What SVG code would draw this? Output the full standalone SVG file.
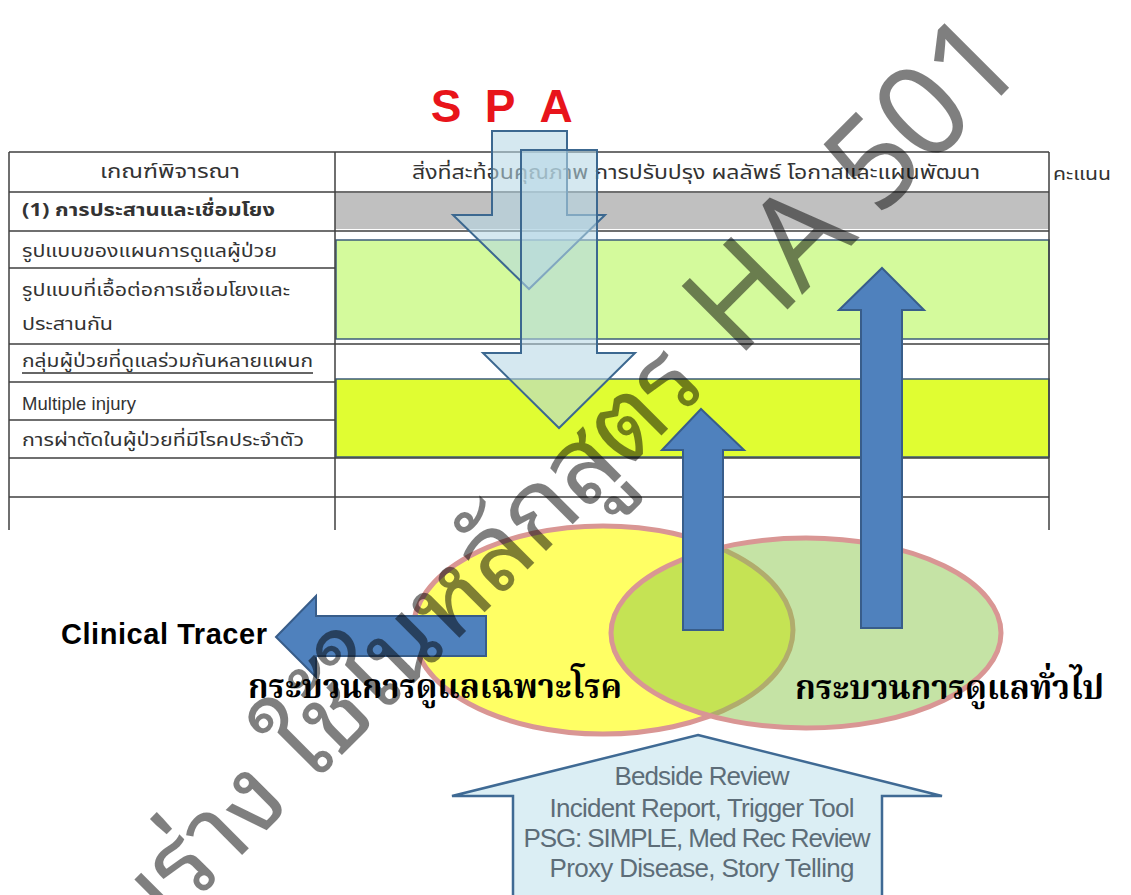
<svg xmlns="http://www.w3.org/2000/svg" width="1131" height="895" viewBox="0 0 1131 895">
<style>
.th{font-family:"Noto Sans Thai","Noto Sans Thai Looped","Loma","Garuda","Tahoma","Noto Sans",sans-serif;fill:#333}
.ths{font-family:"Noto Serif Thai","Noto Sans Thai","Norasi","Liberation Serif",serif;font-weight:bold;fill:#000}
.en{font-family:"Liberation Sans",Arial,sans-serif}
.grid{stroke:#404040;stroke-width:1.5;fill:none}
.band{stroke:#3b5b7a;stroke-width:1.5}
.blue{fill:#4f81bd;stroke:#385d8a;stroke-width:2}
.spa{fill:#b5d7e5;fill-opacity:0.57;stroke:#3c6890;stroke-width:2}
.ell{stroke:#d99694;stroke-width:5}
.rev{font-family:"Liberation Sans",Arial,sans-serif;font-size:26px;fill:#5d6d78;text-anchor:middle}
.wm{font-family:"Noto Sans Thai Looped","Noto Sans Thai","Loma","Tahoma",sans-serif;fill:#000;fill-opacity:0.5}
</style>
<rect width="1131" height="895" fill="#fff"/>
<g id="table">
<rect x="335" y="193" width="714" height="36" fill="#c0c0c0"/>
<rect class="band" x="336" y="240" width="713" height="99" fill="#d4fa9c"/>
<rect class="band" x="336" y="379" width="713" height="78" fill="#e0fd32"/>
<path class="grid" d="M9 152H1049M9 192H1049M9 231H1049M9 268H335M9 344H1049M9 382H335M9 420H335M9 458H1049M9 497H1049M9 152V530M335 152V530M1049 152V530"/>
<text class="th" x="100" y="178" font-size="19" textLength="140" lengthAdjust="spacingAndGlyphs">เกณฑ์พิจารณา</text>
<text class="th" x="412" y="179" font-size="19" textLength="568" lengthAdjust="spacingAndGlyphs">สิ่งที่สะท้อนคุณภาพ การปรับปรุง ผลลัพธ์ โอกาสและแผนพัฒนา</text>
<text class="th" x="1053" y="180" font-size="17" textLength="58" lengthAdjust="spacingAndGlyphs">คะแนน</text>
<text class="th" x="22" y="216" font-size="18" font-weight="bold" textLength="253" lengthAdjust="spacingAndGlyphs">(1) การประสานและเชื่อมโยง</text>
<text class="th" x="22" y="257" font-size="18" textLength="255" lengthAdjust="spacingAndGlyphs">รูปแบบของแผนการดูแลผู้ป่วย</text>
<text class="th" x="22" y="296" font-size="18" textLength="268" lengthAdjust="spacingAndGlyphs">รูปแบบที่เอื้อต่อการเชื่อมโยงและ</text>
<text class="th" x="22" y="330" font-size="18" textLength="91" lengthAdjust="spacingAndGlyphs">ประสานกัน</text>
<text class="th" x="22" y="367" font-size="18" textLength="291" lengthAdjust="spacingAndGlyphs">กลุ่มผู้ป่วยที่ดูแลร่วมกันหลายแผนก</text>
<path d="M22 373H313" stroke="#333" stroke-width="1.5"/>
<text class="en" x="22" y="410" font-size="18.5" fill="#333" textLength="114">Multiple injury</text>
<text class="th" x="22" y="446" font-size="18" textLength="282" lengthAdjust="spacingAndGlyphs">การผ่าตัดในผู้ป่วยที่มีโรคประจำตัว</text>
</g>
<g id="ellipse-specific">
<ellipse class="ell" cx="603" cy="630" rx="190" ry="104" fill="#ffff64"/>
</g>
<g id="ellipse-general">
<ellipse cx="806" cy="633" rx="195" ry="95" fill="#86c543" fill-opacity="0.48"/>
<ellipse class="ell" cx="806" cy="633" rx="195" ry="95" fill="none"/>
</g>
<g id="connectors">
<polygon class="blue" points="701,409 744,450 723,450 723,630 683,630 683,450 662,450"/>
<polygon class="blue" points="882,268 924,310 902,310 902,628 861,628 861,310 839,310"/>
<polygon class="blue" points="276,637 316,596 316,616 486,616 486,656 316,656 316,677"/>
<polygon class="spa" points="492,131 567,131 567,215 605,215 529,289 453,215 492,215"/>
<polygon class="spa" points="521,150 597,150 597,353 635,353 559,428 483,353 521,353"/>
</g>
<g id="labels">
<text class="ths" x="248" y="698" font-size="34" textLength="374" lengthAdjust="spacingAndGlyphs">กระบวนการดูแลเฉพาะโรค</text>
<text class="ths" x="795" y="699" font-size="34" textLength="309" lengthAdjust="spacingAndGlyphs">กระบวนการดูแลทั่วไป</text>
<text class="en" x="61" y="644" font-size="29" font-weight="bold" fill="#000" textLength="206">Clinical Tracer</text>
</g>
<g id="spa" class="en" font-size="46" font-weight="bold" fill="#e8141b" text-anchor="middle">
<text x="446" y="122">S</text>
<text x="500" y="122">P</text>
<text x="556" y="122">A</text>
</g>
<g id="review">
<polygon points="698,735 942,796 882,796 882,900 513,900 513,796 452,796" fill="#dbeef4" stroke="#3f6a94" stroke-width="2.5"/>
<text class="rev" x="702" y="785" textLength="175">Bedside Review</text>
<text class="rev" x="702" y="817" textLength="305">Incident Report, Trigger Tool</text>
<text class="rev" x="697" y="847" textLength="347">PSG: SIMPLE, Med Rec Review</text>
<text class="rev" x="702" y="877" textLength="305">Proxy Disease, Story Telling</text>
</g>
<g id="watermark" class="wm" transform="translate(946,151) rotate(-45)">
<text x="117" y="0" font-size="128" text-anchor="end" textLength="412">HA 501</text>
<text x="-335" y="0" font-size="106" text-anchor="end" textLength="735">ร่าง ใช้ในหลักสูตร</text>
<text x="-1070" y="0" font-size="106" text-anchor="end">ฉบับ</text>
</g>
</svg>
